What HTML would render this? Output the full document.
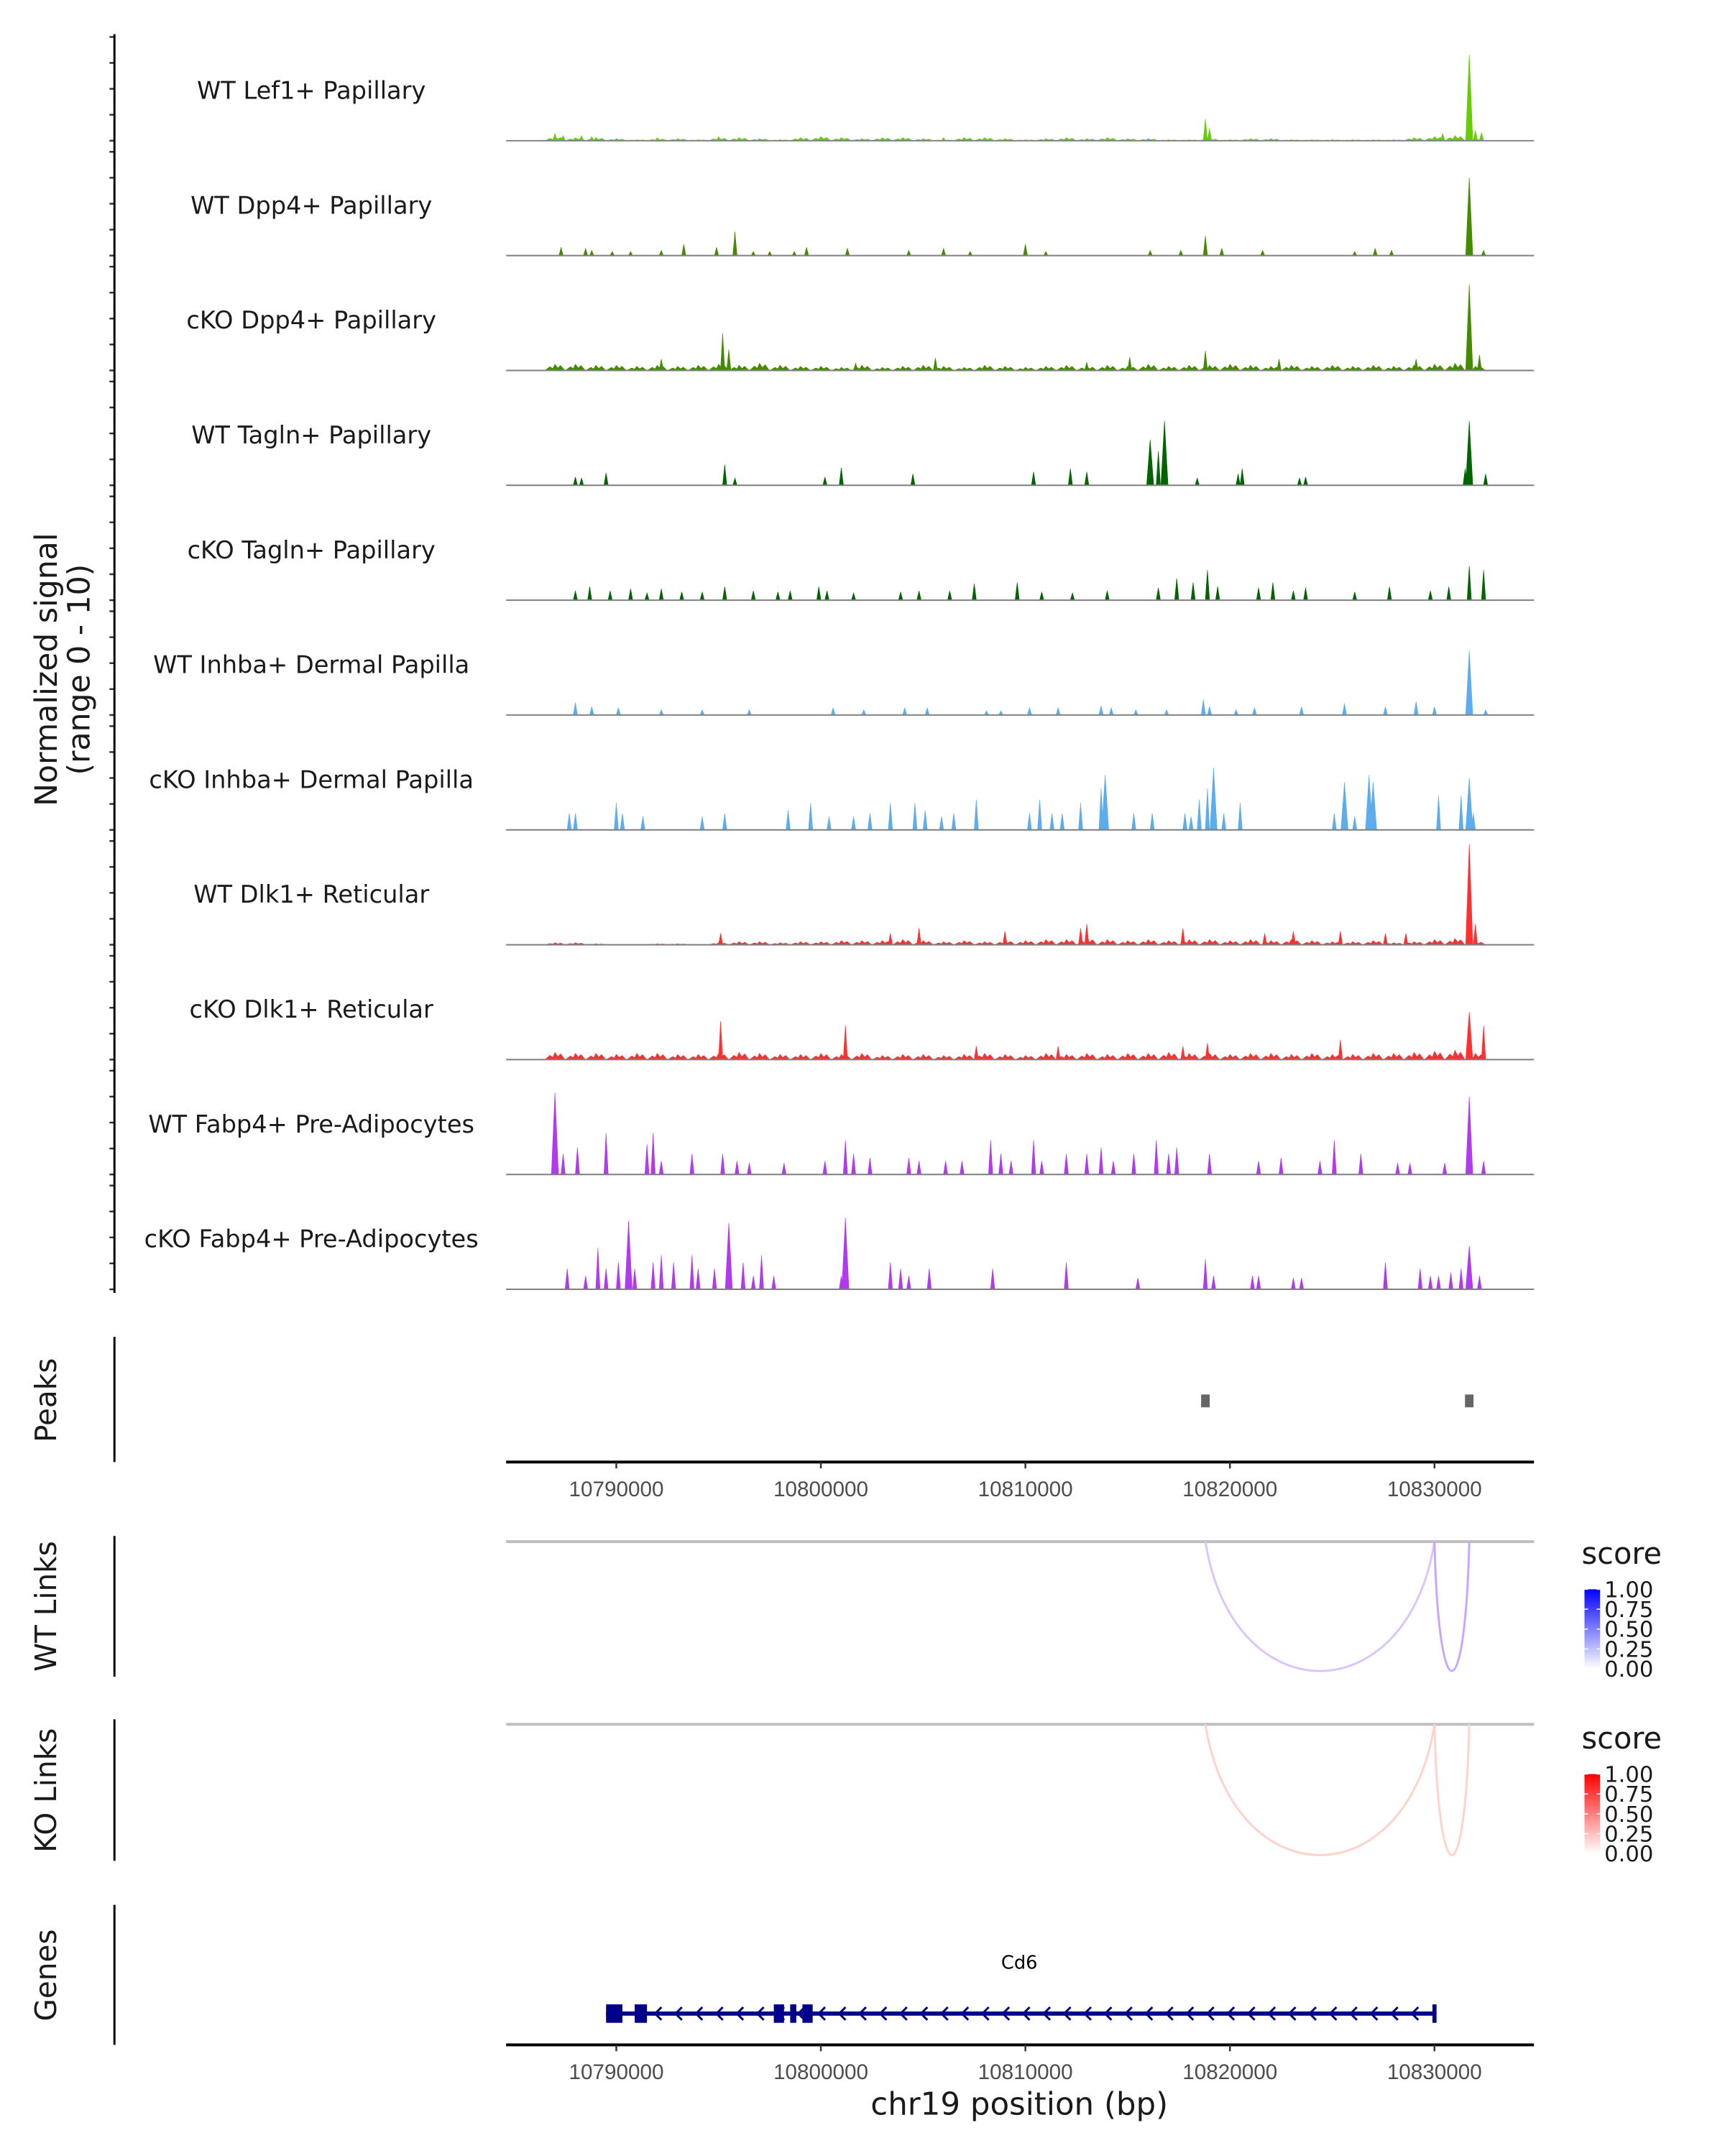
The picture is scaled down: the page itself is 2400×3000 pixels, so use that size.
<!DOCTYPE html>
<html><head><meta charset="utf-8"><style>
html,body{margin:0;padding:0;background:#fff;}
svg{display:block;font-family:"DejaVu Sans","Liberation Sans",sans-serif;}
</style></head><body>
<svg id="chart" width="2400" height="3000" viewBox="0 0 2400 3000" xmlns="http://www.w3.org/2000/svg">
<rect width="2400" height="3000" fill="#fff"/>
<g transform="scale(0.989)">
<g id="tracks"></g>
<g id="axes"></g>
</g>
</svg>
<script>
// ---- data ----
const trackNames = ["WT Lef1+ Papillary","WT Dpp4+ Papillary","cKO Dpp4+ Papillary","WT Tagln+ Papillary","cKO Tagln+ Papillary","WT Inhba+ Dermal Papilla","cKO Inhba+ Dermal Papilla","WT Dlk1+ Reticular","cKO Dlk1+ Reticular","WT Fabp4+ Pre-Adipocytes","cKO Fabp4+ Pre-Adipocytes"];
const trackColors = ["#66CD00","#458B00","#458B00","#006400","#006400","#5CACEE","#5CACEE","#FF3030","#FF3030","#B23AEE","#B23AEE"];
// peak positions in kb relative to chr19:10,790,000
const lef1Pos=[-3.0,-2.6,-1.7,-1.2,2.0,5.0,11.0,16.0,28.8,29.0,40.4,41.7,42.0,42.3];
const lef1Val=[0.7,0.5,0.5,0.4,0.3,0.4,0.3,0.3,2.1,1.2,0.7,8.3,1.0,0.8];
const wtDpp4Pos=[-2.7,-1.5,-1.2,-0.2,0.7,2.2,3.3,4.9,5.8,6.7,7.5,8.7,9.3,11.3,14.3,16.0,17.3,20.0,21.0,26.1,27.6,28.8,29.6,31.6,36.1,37.1,37.9,41.7,42.4];
const wtDpp4Val=[0.8,0.7,0.5,0.4,0.4,0.5,1.1,0.8,2.3,0.4,0.4,0.4,0.8,0.7,0.5,0.7,0.4,1.1,0.4,0.5,0.5,1.9,0.7,0.5,0.4,0.7,0.5,7.5,0.5];
const koDpp4Pos=[2.2,5.2,5.5,11.7,15.6,23.0,25.1,28.8,32.4,39.1,41.7,42.2];
const koDpp4Val=[1.1,3.6,2.0,0.7,1.2,0.8,1.3,1.9,1.1,1.1,8.3,1.5];
const wtTaglnPos=[-2.0,-1.7,-0.5,5.3,5.8,10.2,11.0,14.5,20.4,22.2,23.0,26.1,26.5,26.8,28.4,30.4,30.6,33.4,33.7,41.5,41.7,42.5];
const wtTaglnVal=[0.8,0.7,1.2,2.0,0.7,0.8,1.7,1.1,1.3,1.6,1.3,4.4,3.3,6.2,0.7,1.1,1.6,0.7,0.8,1.6,6.2,1.1];
const koTaglnPos=[-2.0,-1.3,-0.3,0.7,1.5,2.2,3.2,4.2,5.3,6.7,7.9,8.5,9.9,10.3,11.6,13.9,14.8,16.3,17.5,19.6,20.8,22.3,24.0,26.5,27.4,28.2,28.9,29.4,31.4,32.1,33.1,33.7,36.1,37.8,39.8,40.7,41.7,42.4];
const koTaglnVal=[0.9,1.3,0.9,1.1,0.7,1.1,0.8,0.8,1.3,0.9,0.8,0.9,1.3,0.9,0.7,0.8,0.9,0.9,1.6,1.7,0.8,0.7,0.9,1.2,2.1,1.7,2.9,1.3,1.2,1.7,0.9,1.2,0.8,1.3,0.9,1.3,3.3,2.9];
const wtInhbaPos=[-2.0,-1.2,0.1,2.2,4.2,6.5,10.6,12.1,14.1,15.2,18.1,18.8,20.2,21.6,23.7,24.2,25.4,26.9,28.7,29.0,30.3,31.2,33.5,35.6,37.6,39.1,40.0,41.7,42.5];
const wtInhbaVal=[1.2,0.8,0.7,0.5,0.5,0.5,0.7,0.5,0.7,0.7,0.4,0.4,0.7,0.7,0.9,0.7,0.5,0.5,1.5,0.8,0.5,0.7,0.8,1.1,0.8,1.3,0.8,6.2,0.5];
const koInhbaPos=[-2.3,-2.0,0.0,0.3,1.3,4.2,5.3,8.4,9.5,10.4,11.6,12.4,13.4,14.6,15.1,15.9,16.5,17.6,20.2,20.7,21.3,21.8,22.7,23.7,23.9,25.3,26.2,27.8,28.1,28.5,28.9,29.2,29.7,30.5,35.1,35.6,36.1,36.8,37.0,40.2,41.3,41.7,41.9];
const koInhbaVal=[1.6,1.6,2.6,1.6,1.3,1.3,1.6,1.9,2.6,1.3,1.3,1.6,2.6,2.6,1.9,1.3,1.6,2.9,1.6,2.9,1.6,1.6,2.6,4.0,5.3,1.6,1.6,1.6,1.3,2.9,4.0,6.0,1.6,2.6,1.6,4.6,1.3,5.3,4.6,3.3,3.3,5.0,1.6];
const wtDlk1Pos=[5.1,13.4,14.8,19.0,22.7,23.0,27.7,31.7,33.1,35.4,37.6,38.6,41.7,42.0];
const wtDlk1Val=[1.1,1.1,1.6,1.3,1.6,2.0,1.6,1.1,1.3,1.3,1.1,1.1,9.7,2.0];
const koDlk1Pos=[5.1,11.2,17.6,21.6,27.7,28.9,35.4,41.7,42.4];
const koDlk1Val=[3.7,3.3,1.3,1.3,1.3,1.6,1.9,4.6,3.3];
const wtFabp4Pos=[-3.0,-2.6,-1.9,-0.5,1.5,1.8,2.2,3.7,5.2,5.9,6.5,8.2,10.2,11.2,11.6,12.4,14.3,14.8,16.1,16.9,18.3,18.8,19.3,20.4,20.8,22.0,23.0,23.7,24.3,25.3,26.4,27.0,27.4,29.0,31.4,32.5,34.4,35.1,36.4,38.2,38.8,40.5,41.7,42.4];
const wtFabp4Val=[7.9,2.0,2.6,4.0,2.9,4.0,1.3,2.0,2.0,1.3,1.1,1.1,1.3,3.3,2.0,1.6,1.6,1.3,1.3,1.3,3.3,2.0,1.3,3.3,1.3,2.0,2.0,2.6,1.3,2.0,3.3,2.0,2.6,2.0,1.3,1.6,1.3,3.3,2.0,1.1,1.1,1.1,7.5,1.3];
const koFabp4Pos=[-2.4,-1.5,-0.9,-0.5,0.1,0.6,0.9,1.8,2.2,2.8,3.7,4.0,4.8,5.5,6.2,6.7,7.1,7.7,11.0,11.2,13.4,13.9,14.3,15.3,18.4,22.0,25.5,28.8,29.2,31.1,31.4,33.1,33.5,37.6,39.3,39.8,40.2,40.8,41.3,41.7,42.2];
const koFabp4Val=[2.0,1.3,4.0,2.0,2.6,6.6,2.0,2.6,3.3,2.6,3.3,2.0,2.0,6.4,2.6,1.3,3.3,1.3,1.3,6.9,2.6,2.0,1.3,2.0,2.0,2.6,1.1,2.9,1.3,1.3,1.3,1.1,1.1,2.6,2.0,1.3,1.3,1.6,2.0,4.2,1.3];
// background signal sampled every 1 kb from -3 to 42
const bgPosKb=[-3,-2,-1,0,1,2,3,4,5,6,7,8,9,10,11,12,13,14,15,16,17,18,19,20,21,22,23,24,25,26,27,28,29,30,31,32,33,34,35,36,37,38,39,40,41,42];
const lef1Bg=[0.4,0.3,0.3,0.2,0.1,0.2,0.2,0.1,0.3,0.3,0.2,0.1,0.3,0.4,0.3,0.2,0.3,0.3,0.2,0.1,0.3,0.3,0.2,0.1,0.2,0.3,0.2,0.3,0.2,0.2,0.1,0.1,0.2,0.1,0.2,0.2,0.1,0.1,0.1,0.1,0.1,0.1,0.3,0.4,0.5,0.2];
const koDpp4Bg=[0.6,0.6,0.5,0.5,0.4,0.5,0.4,0.5,0.6,0.5,0.7,0.5,0.4,0.4,0.3,0.5,0.3,0.4,0.5,0.4,0.3,0.5,0.4,0.3,0.4,0.5,0.4,0.5,0.4,0.6,0.4,0.5,0.5,0.6,0.5,0.4,0.5,0.4,0.5,0.4,0.5,0.4,0.5,0.6,0.7,0.4];
const wtDlk1Bg=[0.2,0.2,0.1,0.0,0.0,0.1,0.1,0.0,0.2,0.3,0.3,0.2,0.3,0.3,0.4,0.4,0.4,0.5,0.4,0.3,0.4,0.3,0.4,0.4,0.5,0.5,0.6,0.5,0.4,0.5,0.4,0.5,0.5,0.4,0.5,0.4,0.5,0.4,0.3,0.3,0.4,0.2,0.3,0.5,0.6,0.3];
const koDlk1Bg=[0.7,0.6,0.6,0.5,0.6,0.6,0.5,0.5,0.6,0.7,0.6,0.5,0.5,0.6,0.5,0.6,0.4,0.5,0.5,0.4,0.5,0.6,0.5,0.4,0.6,0.5,0.6,0.5,0.6,0.6,0.7,0.6,0.6,0.5,0.6,0.6,0.5,0.6,0.5,0.5,0.6,0.6,0.7,0.8,0.9,0.6];
const peakRegionsKb=[28.8,41.7];
const xTicksKb=[0,10,20,30,40];
const xTickLabels=["10790000","10800000","10810000","10820000","10830000"];
const wtLinks=[[28.8,40.0,0.3],[40.0,41.7,0.45]];
const koLinks=[[28.8,40.0,0.25],[40.0,41.7,0.25]];
const geneExonsKb=[[-0.5,0.3],[0.9,1.5],[7.7,8.2],[8.5,8.8],[9.1,9.6],[39.9,40.1]];
const geneSpanKb=[-0.5,40.0];
const legendTicks=["1.00","0.75","0.50","0.25","0.00"];

// ---- helpers ----
const NS="http://www.w3.org/2000/svg";
const svg=document.getElementById('chart');
const tg=document.getElementById('tracks');
const ag=document.getElementById('axes');
function X(kb){return 867+kb*28.775;}
const X0=712,X1=2158;
function el(tag,attrs,parent){const e=document.createElementNS(NS,tag);for(const k in attrs)e.setAttribute(k,attrs[k]);(parent||svg).appendChild(e);return e;}
function txt(s,x,y,size,attrs,parent){const t=el('text',Object.assign({x:x,y:y,'font-size':size},attrs||{}),parent);t.textContent=s;return t;}

const trackPos=[lef1Pos,wtDpp4Pos,koDpp4Pos,wtTaglnPos,koTaglnPos,wtInhbaPos,koInhbaPos,wtDlk1Pos,koDlk1Pos,wtFabp4Pos,koFabp4Pos];
const trackVal=[lef1Val,wtDpp4Val,koDpp4Val,wtTaglnVal,koTaglnVal,wtInhbaVal,koInhbaVal,wtDlk1Val,koDlk1Val,wtFabp4Val,koFabp4Val];
const trackBg=[lef1Bg,null,koDpp4Bg,null,null,null,null,wtDlk1Bg,koDlk1Bg,null,null];
const H=146, PITCH=161.6, B0=198;
function Y(base,v){return base-v/10*H;}

for(let i=0;i<trackNames.length;i++){
  const base=B0+PITCH*i;
  const g=el('g',{},tg);
  
  
  const lab=txt(trackNames[i],438,base-59,34,{'text-anchor':'middle',fill:'#1a1a1a'},g);
  
  
  let d='';
  const bg=trackBg[i];
  if(bg){for(let j=0;j<bgPosKb.length&&j<bg.length;j++){const x=X(bgPosKb[j]);d+=`M${x-14},${base}L${x-7},${Y(base,bg[j]*0.6)}L${x-3},${Y(base,bg[j]*0.3)}L${x},${Y(base,bg[j])}L${x+4},${Y(base,bg[j]*0.4)}L${x+8},${Y(base,bg[j]*0.8)}L${x+14},${base}Z`;}}
  const P=trackPos[i],V=trackVal[i];
  for(let j=0;j<P.length;j++){const x=X(P[j]);const w=V[j]>4?5:3;d+=`M${x-w},${base}L${x},${Y(base,V[j])}L${x+w},${base}Z`;}
  const p=el('path',{d:d,fill:trackColors[i],stroke:trackColors[i],'stroke-width':0.6},g);
  
  
  const bl=el('line',{x1:X0,x2:X1,y1:base,y2:base,stroke:'#7f7f7f','stroke-width':2},g);
  
  
  for(let k=0;k<5;k++){const ty=base-k*36.5;el('line',{x1:154,x2:161,y1:ty,y2:ty,stroke:'#333','stroke-width':2.5},ag);}
}
const la=el('line',{x1:161,x2:161,y1:48,y2:1819,stroke:'#000','stroke-width':3},ag);


const yt=el('text',{transform:'translate(80,942) rotate(-90)','text-anchor':'middle','font-size':43,fill:'#1a1a1a'},ag);


yt.innerHTML='<tspan x="0" dy="0">Normalized signal</tspan><tspan x="0" dy="46">(range 0 - 10)</tspan>';

function sideTitle(s,cy,y1,y2,name){
  const t=el('text',{transform:`translate(79,${cy}) rotate(-90)`,'text-anchor':'middle','font-size':41,fill:'#1a1a1a'},ag);
  t.textContent=s;
  
  
  const l=el('line',{x1:161,x2:161,y1:y1,y2:y2,stroke:'#000','stroke-width':3},ag);
  
  
}
sideTitle('Peaks',1970,1881,2057,'peaks');
sideTitle('WT Links',2260,2161,2359,'wt-links');
sideTitle('KO Links',2519,2419,2618,'ko-links');
sideTitle('Genes',2779,2680,2877,'genes');

for(const pk of peakRegionsKb){
  const r=el('rect',{x:X(pk)-6,y:1962,width:12,height:18,fill:'#666'},ag);
  
  
}
function xAxis(y,name){
  const l=el('line',{x1:X0,x2:X1,y1:y,y2:y,stroke:'#000','stroke-width':4},ag);
  
  
  for(let i=0;i<xTicksKb.length;i++){
    const x=X(xTicksKb[i]);
    el('line',{x1:x,x2:x,y1:y,y2:y+9,stroke:'#333','stroke-width':2.5},ag);
    const t=txt(xTickLabels[i],x,y+48,30,{'text-anchor':'middle',fill:'#4d4d4d','font-family':'Liberation Sans, sans-serif'},ag);
    
    
  }
}
xAxis(2057,'peaks-x-axis');
xAxis(2877,'genes-x-axis');
const xl=txt('chr19 position (bp)',1434,2975,44,{'text-anchor':'middle',fill:'#1a1a1a'},ag);



function mix(c,s){return `rgb(${Math.round(255+(c[0]-255)*s)},${Math.round(255+(c[1]-255)*s)},${Math.round(255+(c[2]-255)*s)})`;}
function linkPanel(base,bottom,links,col,name){
  const g=el('g',{},ag);
  
  
  el('line',{x1:X0,x2:X1,y1:base,y2:base,stroke:'#bebebe','stroke-width':4},g);
  for(const lk of links){
    const x1=X(lk[0]),x2=X(lk[1]);const c=base+(bottom-base)*1.333;
    const p=el('path',{d:`M${x1},${base}C${x1+(x2-x1)*0.12},${c} ${x2-(x2-x1)*0.12},${c} ${x2},${base}`,fill:'none',stroke:mix(col,lk[2]),'stroke-width':3},g);
    
    
  }
}
linkPanel(2169,2351,wtLinks,[130,60,255],'wt-links-panel');
linkPanel(2426,2610,koLinks,[255,80,40],'ko-links-panel');

function legend(top,col,id,name){
  const g=el('g',{},ag);
  
  
  txt('score',2225,top-36,42,{fill:'#1a1a1a'},g);
  const defs=el('defs',{},g);
  const lg=el('linearGradient',{id:id,x1:0,y1:0,x2:0,y2:1},defs);
  el('stop',{offset:'0','stop-color':col},lg);el('stop',{offset:'1','stop-color':'#fff'},lg);
  el('rect',{x:2229,y:top,width:22,height:112,fill:`url(#${id})`},g);
  for(let i=0;i<legendTicks.length;i++){
    const y=top+i*28;
    el('line',{x1:2229,x2:2234,y1:y,y2:y,stroke:'#fff','stroke-width':1.5},g);
    el('line',{x1:2246,x2:2251,y1:y,y2:y,stroke:'#fff','stroke-width':1.5},g);
    txt(legendTicks[i],2257,y+11,31,{fill:'#1a1a1a'},g);
  }
}
legend(2236,'#0000ff','gb','wt-score-legend');
legend(2496,'#ff0000','gr','ko-score-legend');

const gg=el('g',{},ag);


const gy=2833;
el('line',{x1:X(geneSpanKb[0]),x2:X(geneSpanKb[1]),y1:gy,y2:gy,stroke:'#00008B','stroke-width':6},gg);
for(const ex of geneExonsKb){el('rect',{x:X(ex[0]),y:gy-13,width:Math.max(4,X(ex[1])-X(ex[0])),height:26,fill:'#00008B'},gg);}
let cd='';
for(let k=geneSpanKb[0]+1.5;k<geneSpanKb[1]-0.3;k+=1){const x=X(k);cd+=`M${x+6},${gy-9}L${x-3},${gy}L${x+6},${gy+9}`;}
el('path',{d:cd,fill:'none',stroke:'#00008B','stroke-width':3},gg);
txt('Cd6',1434,2770,26,{'text-anchor':'middle',fill:'#000'},gg);
</script>
</body></html>
